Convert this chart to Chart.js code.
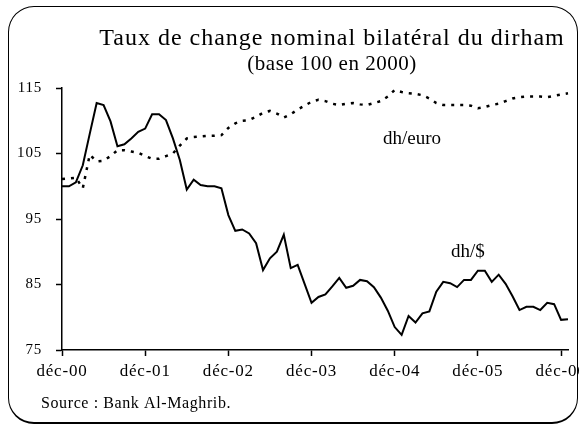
<!DOCTYPE html>
<html lang="fr">
<head>
<meta charset="utf-8">
<script src="https://cdn.jsdelivr.net/npm/chart.js@4.4.0/dist/chart.umd.min.js"></script>
<style>
  html, body { margin: 0; padding: 0; background: #fff; overflow: hidden; }
  #cadre {
    position: absolute; left: 8px; top: 6px; width: 570px; height: 418px;
    box-sizing: border-box; border: 1.5px solid #000; border-bottom-width: 2.5px;
    border-radius: 26px;
  }
  #zone { position: absolute; left: 0; top: 0; width: 579px; height: 428px; }
</style>
</head>
<body>
<div id="cadre"></div>
<div id="zone"><canvas id="tauxChange"></canvas></div>
<script>
// mois de déc-00 à janv-07
const moisFr = ["janv", "févr", "mars", "avr", "mai", "juin", "juil", "août", "sept", "oct", "nov", "déc"];
const mois = [];
for (let i = 0; i < 74; i++) {
  const m = (11 + i) % 12;
  const a = Math.floor((11 + i) / 12);
  mois.push(moisFr[m] + "-0" + a);
}

const tickLabels = ["déc-00", "déc-01", "déc-02", "déc-03", "déc-04", "déc-05", "déc-06"];

// dh/$ (base 100 en 2000)
const dhDollar = [
  100.0, 100.0, 100.6, 103.2, 108.0, 112.7, 112.4, 109.9, 106.1, 106.4,
  107.3, 108.3, 108.8, 111.0, 111.0, 110.1, 107.3, 104.0, 99.5, 101.0,
  100.2, 100.0, 100.0, 99.7, 95.6, 93.2, 93.4, 92.8, 91.3, 87.2,
  89.0, 90.0, 92.6, 87.5, 88.0, 85.1, 82.2, 83.1, 83.5, 84.7,
  86.0, 84.5, 84.8, 85.7, 85.5, 84.6, 83.0, 81.0, 78.5, 77.3,
  80.2, 79.2, 80.6, 80.9, 83.9, 85.4, 85.2, 84.6, 85.7, 85.7,
  87.1, 87.1, 85.4, 86.5, 85.1, 83.2, 81.1, 81.6, 81.6, 81.1,
  82.2, 82.0, 79.6, 79.7
];

// dh/euro (base 100 en 2000)
const dhEuro = [
  101.1, 101.2, 101.3, 99.7, 104.8, 103.8, 103.9, 104.6, 105.5, 105.5,
  105.3, 105.1, 104.6, 104.2, 104.2, 104.6, 105.0, 106.2, 107.3, 107.5,
  107.6, 107.7, 107.7, 107.8, 108.9, 109.6, 110.0, 110.1, 110.6, 111.2,
  111.5, 111.1, 110.5, 111.0, 111.7, 112.3, 112.9, 113.2, 113.0, 112.6,
  112.4, 112.6, 112.7, 112.5, 112.4, 112.7, 113.0, 113.7, 114.7, 114.4,
  114.2, 114.1, 113.9, 113.4, 112.7, 112.4, 112.4, 112.4, 112.4, 112.3,
  111.9, 112.1, 112.4, 112.6, 113.0, 113.4, 113.6, 113.7, 113.7, 113.7,
  113.6, 113.8, 114.0, 114.2
];

const serif = "'Liberation Serif', 'Times New Roman', serif";

// texte un peu espacé, comme dans le graphique d'origine
const espacement = {
  id: "espacement",
  beforeDraw(chart) {
    chart.ctx.letterSpacing = "0.8px";
  }
};

// titres, étiquettes des courbes et source
const textes = {
  id: "textes",
  afterDraw(chart) {
    const ctx = chart.ctx;
    ctx.save();
    ctx.fillStyle = "#000";
    ctx.textBaseline = "alphabetic";
    ctx.textAlign = "center";
    ctx.letterSpacing = "1px";
    ctx.font = "24px " + serif;
    ctx.fillText("Taux de change nominal bilatéral du dirham", 332, 45);
    ctx.letterSpacing = "0.5px";
    ctx.font = "21px " + serif;
    ctx.fillText("(base 100 en 2000)", 332, 70);
    ctx.textAlign = "left";
    ctx.letterSpacing = "0px";
    ctx.font = "19px " + serif;
    ctx.fillText("dh/euro", 383, 144);
    ctx.fillText("dh/$", 451, 257);
    ctx.letterSpacing = "0.6px";
    ctx.font = "16px " + serif;
    ctx.fillText("Source : Bank Al-Maghrib.", 41, 408);
    ctx.restore();
  }
};

new Chart("tauxChange", {
  type: "line",
  data: {
    labels: mois,
    datasets: [
      {
        label: "dh/$",
        data: dhDollar,
        borderColor: "#000",
        borderWidth: 2,
        pointRadius: 0,
        tension: 0
      },
      {
        label: "dh/euro",
        data: dhEuro,
        borderColor: "#000",
        borderWidth: 2.5,
        borderDash: [3, 6],
        pointRadius: 0,
        tension: 0
      }
    ]
  },
  options: {
    responsive: true,
    maintainAspectRatio: false,
    devicePixelRatio: 1,
    animation: false,
    layout: { padding: { top: 88, left: 0, right: 11, bottom: 0 } },
    plugins: {
      legend: { display: false },
      title: { display: false },
      tooltip: { enabled: false }
    },
    scales: {
      x: {
        offset: false,
        grid: {
          drawOnChartArea: false,
          tickLength: 6,
          tickWidth: 1.5,
          tickColor: (c) => tickLabels.includes(mois[c.index]) ? "#000" : "rgba(0,0,0,0)"
        },
        border: { color: "#000", width: 1.5 },
        ticks: {
          autoSkip: false,
          maxRotation: 0,
          padding: 5,
          color: "#000",
          font: { family: serif, size: 17 },
          callback: function (v, i) {
            const l = mois[i];
            return tickLabels.includes(l) ? l : "";
          }
        },
        afterFit(scale) {
          scale.height = 78;
          scale.paddingLeft = 0;
          scale.paddingRight = 0;
        }
      },
      y: {
        min: 75,
        max: 115,
        grid: {
          drawOnChartArea: false,
          tickLength: 6,
          tickWidth: 1.5,
          tickColor: "#000"
        },
        border: { color: "#000", width: 1.5 },
        ticks: {
          stepSize: 10,
          padding: 14,
          color: "#000",
          font: { family: serif, size: 15 }
        },
        afterFit(scale) {
          scale.width = 62;
          scale.paddingTop = 0;
          scale.paddingBottom = 0;
        }
      }
    }
  },
  plugins: [espacement, textes]
});
</script>
</body>
</html>
